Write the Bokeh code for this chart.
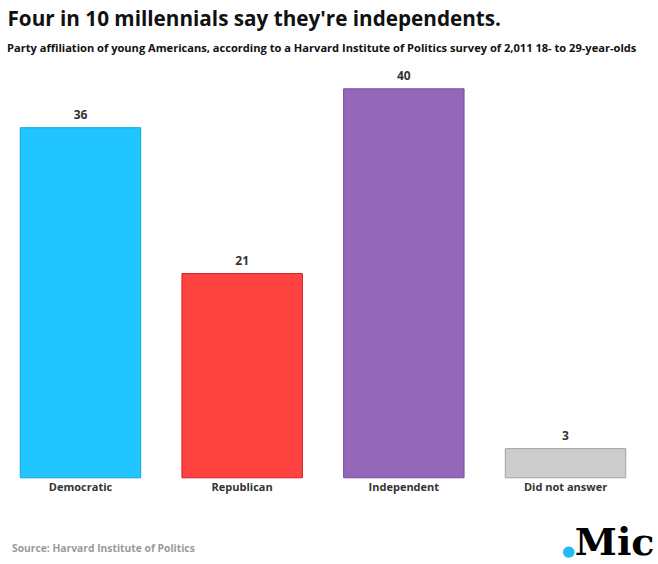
from bokeh.plotting import figure
from bokeh.models import ColumnDataSource, Label, Range1d
from bokeh.core.properties import value
from bokeh.embed import file_html
from bokeh.resources import INLINE

categories = ["Democratic", "Republican", "Independent", "Did not answer"]
values = [36, 21, 40, 3]
fill_colors = ["#21c5ff", "#ff4340", "#9467bb", "#cccccc"]
line_colors = ["#0ea6dc", "#d81c24", "#7a4d9e", "#a2a2a2"]

title_text = "Four in 10 millennials say they're independents."
subtitle_text = "Party affiliation of young Americans, according to a Harvard Institute of Politics survey of 2,011 18- to 29-year-olds"
source_text = "Source: Harvard Institute of Politics"

FONT = "Open Sans"

W, H = 658, 564
p = figure(width=W, height=H, output_backend="svg", toolbar_location=None,
           x_axis_location=None, y_axis_location=None, min_border=0,
           x_range=Range1d(-0.4948, 3.5752), y_range=Range1d(-8.915, 49.08))
p.outline_line_color = None
p.grid.visible = False
p.background_fill_color = "white"
p.border_fill_color = "white"

idx = list(range(len(categories)))
src = ColumnDataSource(dict(x=idx, top=values, fill=fill_colors, line=line_colors,
                            cat=categories, lab=[str(v) for v in values],
                            zero=[0] * len(values)))

p.vbar(x="x", top="top", bottom=0, width=0.745, fill_color="fill",
       line_color="line", line_width=1, source=src)

p.text(x="x", y="top", text="lab", source=src, text_align="center",
       text_baseline="alphabetic", y_offset=-13, text_font=value(FONT),
       text_font_style="bold", text_font_size="12px", text_color="#333333")

p.text(x="x", y="zero", text="cat", source=src, text_align="center",
       text_baseline="alphabetic", y_offset=8.7, text_font=value(FONT),
       text_font_style="bold", text_font_size="11px", text_color="#333333")

p.add_layout(Label(x=7, y=547, x_units="screen", y_units="screen", text=title_text,
                   text_font=FONT, text_font_style="bold", text_font_size="20.7px",
                   text_color="#111111", text_baseline="alphabetic"))
p.add_layout(Label(x=6.5, y=517, x_units="screen", y_units="screen", text=subtitle_text,
                   text_font=FONT, text_font_style="bold", text_font_size="11.1px",
                   text_color="#111111", text_baseline="alphabetic"))
p.add_layout(Label(x=11.5, y=16.5, x_units="screen", y_units="screen", text=source_text,
                   text_font=FONT, text_font_style="bold", text_font_size="10.3px",
                   text_color="#9a9a9a", text_baseline="alphabetic"))
p.add_layout(Label(x=654, y=23, x_units="screen", y_units="screen", text="Mic",
                   text_font="DejaVu Serif", text_font_style="bold", text_font_size="38px",
                   text_color="#000000", text_baseline="alphabetic", text_align="right"))
p.add_layout(Label(x=568, y=14, x_units="screen", y_units="screen", text="\u25cf",
                   text_font="DejaVu Sans", text_font_size="15px",
                   text_color="#22bbf5", text_baseline="middle", text_align="center"))

open("out.html", "w").write(file_html(p, INLINE))
